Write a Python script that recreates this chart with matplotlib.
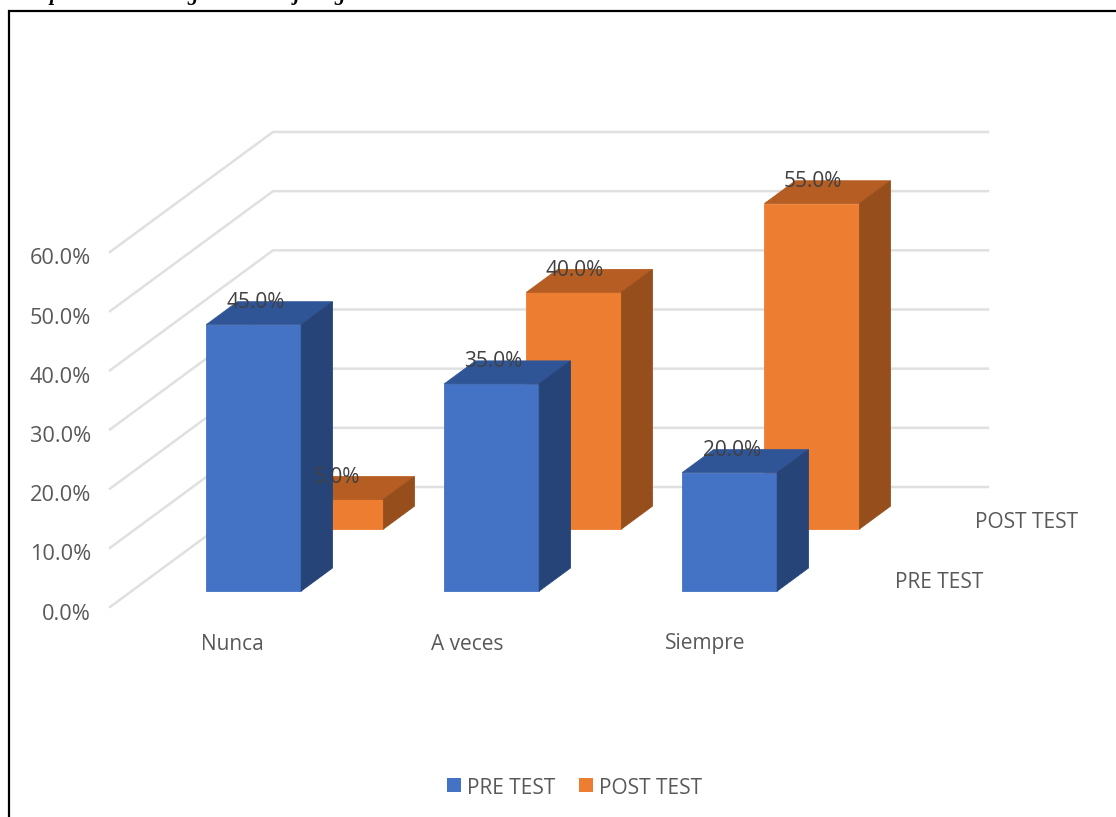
import matplotlib
matplotlib.use("Agg")
import matplotlib.pyplot as plt
from matplotlib.patches import Polygon, Rectangle

plt.rcParams['font.family'] = ['Open Sans', 'DejaVu Sans']

categorias = ["Nunca", "A veces", "Siempre"]
pre_test = [45.0, 35.0, 20.0]
post_test = [5.0, 40.0, 55.0]
ticks_y = [0, 10, 20, 30, 40, 50, 60]

GRIS = "#595959"
GRID = "#E0E0E0"
AZUL = ("#4472C4", "#2F5597", "#264478")
NARANJA = ("#ED7D31", "#B55D22", "#964F1C")

# proyeccion a mano: columna en el plano, valor en %, profundidad 0..1
ORIGEN_X, ORIGEN_Y = 110, 607
DX, DY = 163, -120
ESCALA_Y = 5.917
ANCHO = 95
PASO = 238
INICIO = 74.5


def proy(x, valor, prof):
    return (ORIGEN_X + x + DX * prof, ORIGEN_Y - ESCALA_Y * valor + DY * prof)


def barra_3d(ax, x, valor, p0, p1, colores, centro=48):
    frente, arriba, lado = colores
    caras = [
        ([(x, 0, p0), (x + ANCHO, 0, p0), (x + ANCHO, valor, p0), (x, valor, p0)], frente),
        ([(x, valor, p0), (x + ANCHO, valor, p0), (x + ANCHO, valor, p1), (x, valor, p1)], arriba),
        ([(x + ANCHO, 0, p0), (x + ANCHO, 0, p1), (x + ANCHO, valor, p1), (x + ANCHO, valor, p0)], lado),
    ]
    for puntos, color in caras:
        ax.add_patch(Polygon([proy(*p) for p in puntos], closed=True, facecolor=color,
                             edgecolor=color, linewidth=0.6, zorder=3))
    cx, cy = proy(x + centro, valor, p1)
    cx -= DX * (p1 - p0)
    ax.text(cx, cy + 1, f"{valor:.1f}%", ha='center', va='center', fontsize=15,
            color="#404040", zorder=5)


fig = plt.figure(figsize=(11.16, 8.17), dpi=100)
ax = fig.add_axes([0, 0, 1, 1])
ax.set_xlim(0, 1116)
ax.set_ylim(817, 0)
ax.axis('off')

# restos del titulo cortado por arriba de la imagen
for letra, x in zip("pgjg", [55, 193, 297, 340]):
    ax.text(x, 0, letra, ha='center', va='baseline', fontsize=15, family='Liberation Serif',
            weight='bold', style='italic', color='black')

# marco de la figura
ax.plot([9, 9, 1116], [817, 11, 11], color='black', linewidth=1.6, solid_joinstyle='miter')

# rejilla: pared lateral y pared del fondo
for t in ticks_y:
    x0, y0 = proy(0, t, 0)
    x1, y1 = proy(0, t, 1)
    x2, y2 = proy(715, t, 1)
    ax.plot([x0, x1, x2], [y0, y1, y2], color=GRID, linewidth=1.8, zorder=1)
    ax.text(91, y0 + 7, f"{t:.1f}%", ha='right', va='center', fontsize=15.7, color=GRIS)

for i, cat in enumerate(categorias):
    x = INICIO + PASO * i - 2
    barra_3d(ax, x, post_test[i], 0.65, 0.84, NARANJA)
for i, cat in enumerate(categorias):
    x = INICIO + PASO * i
    barra_3d(ax, x, pre_test[i], 0.133, 0.325, AZUL, centro=49.5)
    ax.text(232 + PASO * i - (3 if i else 0), 644, cat, ha='center', va='center',
            fontsize=15, color=GRIS)

ax.text(939, 583, "PRE TEST", ha='center', va='center', fontsize=15, color=GRIS)
ax.text(1027, 522, "POST TEST", ha='center', va='center', fontsize=15, color=GRIS)

# leyenda
ax.add_patch(Rectangle((447, 778), 14, 14, facecolor=AZUL[0]))
ax.text(467, 788, "PRE TEST", ha='left', va='center', fontsize=15, color=GRIS)
ax.add_patch(Rectangle((579, 778), 14, 14, facecolor=NARANJA[0]))
ax.text(599, 788, "POST TEST", ha='left', va='center', fontsize=15, color=GRIS)

fig.savefig("out.png", dpi=100)
